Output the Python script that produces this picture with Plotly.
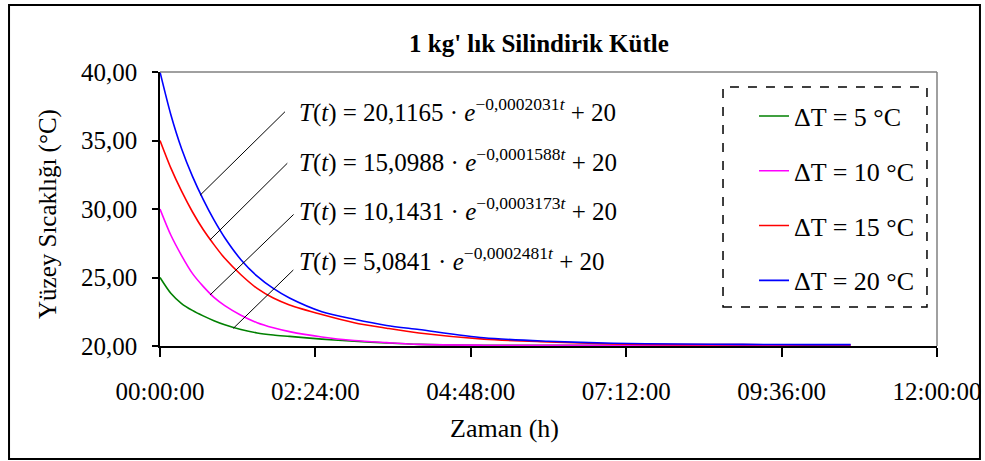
import pandas as pd
import plotly.graph_objects as go

# time since start of cooling (minutes)
minutes = [0, 10, 20, 30, 40, 50, 60, 75, 90, 105, 120, 150, 180, 210, 240,
           300, 360, 420, 480, 540, 600, 640]
minutes_green = [0, 10, 20, 30, 40, 50, 60, 75, 90, 105, 120, 150, 180, 210, 240,
                 300, 360, 420, 480, 540, 610]

# surface temperature readings (°C)
temp_dt5 = [25.0, 23.85, 23.1, 22.6, 22.2, 21.85, 21.55, 21.2, 20.95, 20.8, 20.7,
            20.5, 20.35, 20.22, 20.12, 20.06, 20.05, 20.05, 20.05, 20.05, 20.05]
temp_dt10 = [30.0, 28.1, 26.6, 25.3, 24.35, 23.55, 22.95, 22.25, 21.7, 21.33, 21.05,
             20.66, 20.4, 20.25, 20.12, 20.06, 20.05, 20.05, 20.04, 20.04, 20.04, 20.04]
temp_dt15 = [35.0, 33.0, 31.3, 29.8, 28.5, 27.4, 26.4, 25.2, 24.2, 23.5, 23.0,
             22.3, 21.7, 21.3, 20.95, 20.5, 20.3, 20.15, 20.1, 20.1, 20.07, 20.07]
temp_dt20 = [40.0, 36.9, 34.4, 32.4, 30.7, 29.2, 27.9, 26.3, 25.1, 24.2, 23.5,
             22.5, 21.95, 21.5, 21.2, 20.6, 20.35, 20.2, 20.15, 20.12, 20.1, 20.1]

series_names = ["ΔT = 5 °C", "ΔT = 10 °C", "ΔT = 15 °C", "ΔT = 20 °C"]
series_colors = ["#008000", "#FF00FF", "#FF0000", "#0000FF"]

equations = [
    "<i>T</i>(<i>t</i>) = 20,1165 · <i>e</i><sup>−0,0002031<i>t</i></sup> + 20",
    "<i>T</i>(<i>t</i>) = 15,0988 · <i>e</i><sup>−0,0001588<i>t</i></sup> + 20",
    "<i>T</i>(<i>t</i>) = 10,1431 · <i>e</i><sup>−0,0003173<i>t</i></sup> + 20",
    "<i>T</i>(<i>t</i>) = 5,0841 · <i>e</i><sup>−0,0002481<i>t</i></sup> + 20",
]

base = pd.Timestamp("1900-01-01")


def to_time(mins):
    return [base + pd.Timedelta(minutes=m) for m in mins]


FONT = "Liberation Serif, Times New Roman, serif"

fig = go.Figure()

xs = [to_time(minutes_green), to_time(minutes), to_time(minutes), to_time(minutes)]
ys = [temp_dt5, temp_dt10, temp_dt15, temp_dt20]
for i in range(4):
    fig.add_trace(go.Scatter(
        x=xs[i], y=ys[i], mode="lines", name=series_names[i],
        line=dict(color=series_colors[i], width=1.6, shape="spline", smoothing=0.8),
        legendgroup=f"g{i}",
    ))

# leader lines from equation text to curves: (hours, temp) pairs
leaders = [((1.93, 37.1), (0.618, 31.0)),
           ((1.966, 33.34), (0.772, 27.74)),
           ((2.063, 29.6), (0.772, 23.72)),
           ((2.059, 25.55), (1.132, 21.29))]
for (h0, y0), (h1, y1) in leaders:
    fig.add_shape(type="line", xref="x", yref="y",
                  x0=base + pd.Timedelta(hours=h0), y0=y0,
                  x1=base + pd.Timedelta(hours=h1), y1=y1,
                  line=dict(color="black", width=1))

# plot-area border (top/right grey)
fig.add_shape(type="line", xref="paper", yref="paper", x0=0, y0=1, x1=1, y1=1,
              line=dict(color="#808080", width=1.5))
fig.add_shape(type="line", xref="paper", yref="paper", x0=1, y0=0, x1=1, y1=1,
              line=dict(color="#808080", width=1.5))
# outer chart border
fig.add_shape(type="rect", xref="paper", yref="paper",
              x0=-0.1943, x1=1.0553, y0=-0.4124, y1=1.2445,
              line=dict(color="black", width=2))
# dashed legend box
fig.add_shape(type="rect", xref="paper", yref="paper",
              x0=0.7246, x1=0.9871, y0=0.1423, y1=0.9453,
              line=dict(color="black", width=1.5, dash="dash"))

eq_y = [0.8613, 0.6788, 0.4964, 0.3139]
for txt, yy in zip(equations, eq_y):
    fig.add_annotation(text=txt, xref="paper", yref="paper", x=0.1763, y=yy,
                       xanchor="left", yanchor="middle", showarrow=False,
                       font=dict(family=FONT, size=25, color="black"))

fig.add_annotation(text="<b>1 kg' lık Silindirik Kütle</b>", xref="paper", yref="paper",
                   x=0.4878, y=1.1058, xanchor="center", yanchor="middle",
                   showarrow=False, font=dict(family=FONT, size=25, color="black"))
fig.add_annotation(text="Yüzey Sıcaklığı (°C)", xref="paper", yref="paper",
                   x=-0.1441, y=0.4818, textangle=-90, xanchor="center",
                   yanchor="middle", showarrow=False,
                   font=dict(family=FONT, size=25, color="black"))
fig.add_annotation(text="Zaman (h)", xref="paper", yref="paper",
                   x=0.444, y=-0.3029, xanchor="center", yanchor="middle",
                   showarrow=False, font=dict(family=FONT, size=26, color="black"))

fig.update_layout(
    width=985, height=461,
    margin=dict(l=160, r=48, t=72, b=115, autoexpand=False),
    paper_bgcolor="white", plot_bgcolor="white",
    separators=", ",
    font=dict(family=FONT, size=25, color="black"),
    showlegend=True,
    legend=dict(x=0.7645, y=0.925, xanchor="left", yanchor="top",
                bgcolor="rgba(0,0,0,0)", borderwidth=0,
                font=dict(family=FONT, size=26), tracegroupgap=18,
                itemwidth=30),
)

fig.update_xaxes(
    type="date",
    range=[base, base + pd.Timedelta(hours=12)],
    tick0=base, dtick=8640000, tickformat="%H:%M:%S",
    showline=True, linecolor="black", linewidth=1.5,
    ticks="outside", ticklen=9, tickcolor="black", tickwidth=1.5,
    ticklabelstandoff=13, automargin=False,
    showgrid=False, zeroline=False,
)
fig.update_yaxes(
    range=[20, 40], dtick=5, tickformat=".2f",
    showline=True, linecolor="black", linewidth=1.5,
    ticks="outside", ticklen=6, tickcolor="black", tickwidth=1.5,
    ticklabelstandoff=10, automargin=False,
    showgrid=False, zeroline=False,
)

# the page is photographed from its top-left corner, so drop the body margin
fig.write_html("out.html", config={"displayModeBar": False},
               post_script="document.body.style.margin='0px';")
